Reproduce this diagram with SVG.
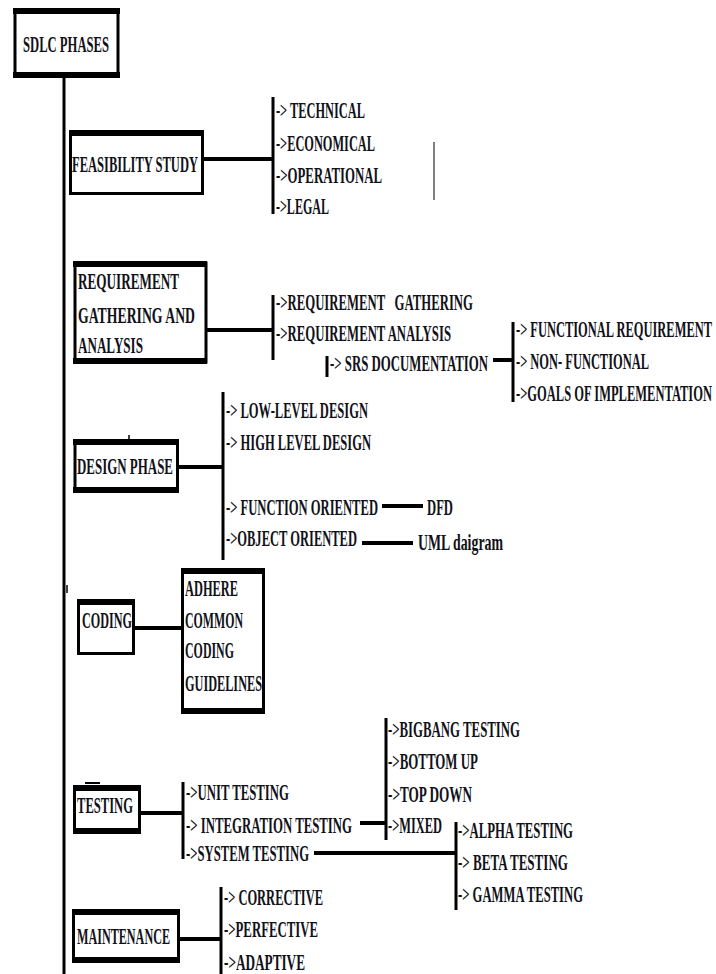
<svg xmlns="http://www.w3.org/2000/svg" width="716" height="974" viewBox="0 0 716 974">
<style>
.t{font-family:"Liberation Serif","Times New Roman",serif;font-weight:bold;font-size:13px;fill:#111118}
.s{font-size:11.5px}
.box{fill:#fff;stroke:#000;stroke-width:3}
.thick{stroke:#000;stroke-width:6;fill:none}
.c{stroke:#000;stroke-width:4;fill:none}
.br{stroke:#000;stroke-width:3;fill:none}
</style>
<rect width="716" height="974" fill="#fff"/>
<g id="connectors">
<line class="br" x1="64" y1="77" x2="64" y2="974"/>
<line class="c" x1="204" y1="159" x2="273" y2="159"/>
<line class="br" x1="273" y1="97" x2="273" y2="214"/>
<line x1="434" y1="142" x2="434" y2="200" stroke="#555" stroke-width="1.5"/>
<line class="c" x1="207" y1="330" x2="273" y2="330"/>
<line class="br" x1="273" y1="295" x2="273" y2="360"/>
<line class="br" x1="327" y1="356" x2="327" y2="377"/>
<line class="c" x1="493" y1="360" x2="513" y2="360"/>
<line class="br" x1="513" y1="322" x2="513" y2="402"/>
<line class="c" x1="179" y1="467" x2="223" y2="467"/>
<line class="br" x1="223" y1="392" x2="223" y2="560"/>
<line class="c" x1="382" y1="506" x2="423" y2="506"/>
<line class="c" x1="362" y1="543" x2="413" y2="543"/>
<line class="c" x1="135" y1="628" x2="182" y2="628"/>
<line class="c" x1="141" y1="813" x2="183" y2="813"/>
<line class="br" x1="183" y1="782" x2="183" y2="859"/>
<line class="c" x1="360" y1="823" x2="386" y2="823"/>
<line class="br" x1="386" y1="718" x2="386" y2="840"/>
<line class="c" x1="314" y1="853" x2="456" y2="853"/>
<line class="br" x1="456" y1="822" x2="456" y2="910"/>
<line class="c" x1="180" y1="939" x2="221" y2="939"/>
<line class="br" x1="221" y1="887" x2="221" y2="974"/>
<line x1="67" y1="585" x2="67" y2="593" stroke="#000" stroke-width="1.5"/>
<line x1="129" y1="435" x2="129" y2="440" stroke="#000" stroke-width="1.5"/>
<line x1="85" y1="783" x2="100" y2="783" stroke="#000" stroke-width="2"/>
</g>
<g id="sdlc">
<rect class="box" x="15" y="11" width="103" height="64" stroke-width="4"/>
<line class="thick" x1="13" y1="11" x2="120" y2="11"/>
<line class="thick" x1="13" y1="75" x2="120" y2="75"/>
<text class="t" transform="translate(23,52) scale(1,1.85)" textLength="86" lengthAdjust="spacingAndGlyphs">SDLC PHASES</text>
</g>
<g id="feasibility">
<rect class="box" x="70.5" y="132" width="132" height="61.5"/>
<line class="thick" x1="69" y1="133" x2="204" y2="133"/>
<text class="t" transform="translate(72,172) scale(1,1.85)" textLength="126" lengthAdjust="spacingAndGlyphs">FEASIBILITY STUDY</text>
<text class="t" transform="translate(276,118) scale(1,1.85)" textLength="89" lengthAdjust="spacingAndGlyphs">-&gt; TECHNICAL</text>
<text class="t" transform="translate(276,151) scale(1,1.85)" textLength="99" lengthAdjust="spacingAndGlyphs">-&gt;ECONOMICAL</text>
<text class="t" transform="translate(276,183) scale(1,1.85)" textLength="106" lengthAdjust="spacingAndGlyphs">-&gt;OPERATIONAL</text>
<text class="t" transform="translate(276,214) scale(1,1.85)" textLength="53" lengthAdjust="spacingAndGlyphs">-&gt;LEGAL</text>
</g>
<g id="requirement">
<rect class="box" x="75" y="263" width="131" height="99"/>
<line class="thick" x1="73" y1="264" x2="207" y2="264"/>
<line class="thick" x1="73" y1="361" x2="207" y2="361"/>
<text class="t" transform="translate(78,289) scale(1,1.85)" textLength="101" lengthAdjust="spacingAndGlyphs">REQUIREMENT</text>
<text class="t" transform="translate(78,323) scale(1,1.85)" textLength="117" lengthAdjust="spacingAndGlyphs">GATHERING AND</text>
<text class="t" transform="translate(78,353) scale(1,1.85)" textLength="65" lengthAdjust="spacingAndGlyphs">ANALYSIS</text>
<text class="t" transform="translate(276,310) scale(1,1.85)" textLength="197" lengthAdjust="spacingAndGlyphs" xml:space="preserve">-&gt;REQUIREMENT   GATHERING</text>
<text class="t" transform="translate(276,341) scale(1,1.85)" textLength="175" lengthAdjust="spacingAndGlyphs">-&gt;REQUIREMENT ANALYSIS</text>
<text class="t" transform="translate(330,371) scale(1,1.85)" textLength="158" lengthAdjust="spacingAndGlyphs">-&gt; SRS DOCUMENTATION</text>
<text class="t s" transform="translate(516,337) scale(1,2.09)" textLength="196" lengthAdjust="spacingAndGlyphs">-&gt; FUNCTIONAL REQUIREMENT</text>
<text class="t" transform="translate(516,369) scale(1,1.85)" textLength="133" lengthAdjust="spacingAndGlyphs">-&gt; NON- FUNCTIONAL</text>
<text class="t s" transform="translate(516,401) scale(1,2.09)" textLength="196" lengthAdjust="spacingAndGlyphs">-&gt;GOALS OF IMPLEMENTATION</text>
</g>
<g id="design">
<rect class="box" x="75" y="441" width="102.5" height="50"/>
<line class="thick" x1="73" y1="442" x2="179" y2="442"/>
<line class="thick" x1="73" y1="490" x2="179" y2="490"/>
<text class="t" transform="translate(77,474) scale(1,1.85)" textLength="96" lengthAdjust="spacingAndGlyphs">DESIGN PHASE</text>
<text class="t" transform="translate(226,418) scale(1,1.85)" textLength="142" lengthAdjust="spacingAndGlyphs">-&gt; LOW-LEVEL DESIGN</text>
<text class="t" transform="translate(226,450) scale(1,1.85)" textLength="145" lengthAdjust="spacingAndGlyphs">-&gt; HIGH LEVEL DESIGN</text>
<text class="t" transform="translate(226,515) scale(1,1.85)" textLength="152" lengthAdjust="spacingAndGlyphs">-&gt; FUNCTION ORIENTED</text>
<text class="t" transform="translate(226,546) scale(1,1.85)" textLength="131" lengthAdjust="spacingAndGlyphs">-&gt;OBJECT ORIENTED</text>
<text class="t" transform="translate(427,515) scale(1,1.85)" textLength="26" lengthAdjust="spacingAndGlyphs">DFD</text>
<text class="t" transform="translate(418,550) scale(1,1.85)" textLength="85" lengthAdjust="spacingAndGlyphs">UML daigram</text>
</g>
<g id="coding">
<rect class="box" x="78.5" y="601" width="55" height="52.5"/>
<line class="thick" x1="77" y1="602" x2="135" y2="602"/>
<text class="t" transform="translate(82,628) scale(1,1.85)" textLength="50" lengthAdjust="spacingAndGlyphs">CODING</text>
</g>
<g id="guidelines">
<rect class="box" x="182.5" y="571" width="81" height="141"/>
<line class="thick" x1="181" y1="571" x2="265" y2="571"/>
<line class="thick" x1="181" y1="711" x2="265" y2="711"/>
<text class="t" transform="translate(185,596) scale(1,1.85)" textLength="53" lengthAdjust="spacingAndGlyphs">ADHERE</text>
<text class="t" transform="translate(185,628) scale(1,1.85)" textLength="58" lengthAdjust="spacingAndGlyphs">COMMON</text>
<text class="t" transform="translate(185,658) scale(1,1.85)" textLength="49" lengthAdjust="spacingAndGlyphs">CODING</text>
<text class="t" transform="translate(185,691) scale(1,1.85)" textLength="77" lengthAdjust="spacingAndGlyphs">GUIDELINES</text>
</g>
<g id="testing">
<rect class="box" x="74.5" y="788" width="65" height="44"/>
<line class="thick" x1="73" y1="788" x2="141" y2="788"/>
<line class="thick" x1="73" y1="831" x2="141" y2="831"/>
<text class="t" transform="translate(77,813) scale(1,1.85)" textLength="56" lengthAdjust="spacingAndGlyphs">TESTING</text>
<text class="t" transform="translate(186,800) scale(1,1.85)" textLength="103" lengthAdjust="spacingAndGlyphs">-&gt;UNIT TESTING</text>
<text class="t" transform="translate(186,833) scale(1,1.85)" textLength="166" lengthAdjust="spacingAndGlyphs">-&gt; INTEGRATION TESTING</text>
<text class="t" transform="translate(186,861) scale(1,1.85)" textLength="123" lengthAdjust="spacingAndGlyphs">-&gt;SYSTEM TESTING</text>
<text class="t" transform="translate(388,737) scale(1,1.85)" textLength="132" lengthAdjust="spacingAndGlyphs">-&gt;BIGBANG TESTING</text>
<text class="t" transform="translate(388,769) scale(1,1.85)" textLength="90" lengthAdjust="spacingAndGlyphs">-&gt;BOTTOM UP</text>
<text class="t" transform="translate(388,802) scale(1,1.85)" textLength="84" lengthAdjust="spacingAndGlyphs">-&gt;TOP DOWN</text>
<text class="t" transform="translate(388,833) scale(1,1.85)" textLength="54" lengthAdjust="spacingAndGlyphs">-&gt;MIXED</text>
<text class="t" transform="translate(458,838) scale(1,1.85)" textLength="115" lengthAdjust="spacingAndGlyphs">-&gt;ALPHA TESTING</text>
<text class="t" transform="translate(458,870) scale(1,1.85)" textLength="110" lengthAdjust="spacingAndGlyphs">-&gt; BETA TESTING</text>
<text class="t" transform="translate(458,902) scale(1,1.85)" textLength="125" lengthAdjust="spacingAndGlyphs">-&gt; GAMMA TESTING</text>
</g>
<g id="maintenance">
<rect class="box" x="73.5" y="911" width="105" height="50"/>
<line class="thick" x1="72" y1="912" x2="180" y2="912"/>
<line class="thick" x1="72" y1="960" x2="180" y2="960"/>
<text class="t" transform="translate(77,944) scale(1,1.85)" textLength="93" lengthAdjust="spacingAndGlyphs">MAINTENANCE</text>
<text class="t" transform="translate(224,905) scale(1,1.85)" textLength="99" lengthAdjust="spacingAndGlyphs">-&gt; CORRECTIVE</text>
<text class="t" transform="translate(224,937) scale(1,1.85)" textLength="94" lengthAdjust="spacingAndGlyphs">-&gt;PERFECTIVE</text>
<text class="t" transform="translate(224,970) scale(1,1.85)" textLength="81" lengthAdjust="spacingAndGlyphs">-&gt;ADAPTIVE</text>
</g>
</svg>
